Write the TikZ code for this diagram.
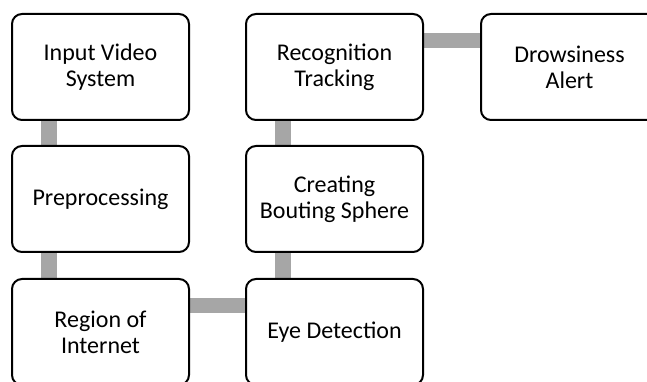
\documentclass[tikz,border=0pt]{standalone}
\usepackage{fontspec}
\setmainfont{Carlito}
\definecolor{linkgray}{RGB}{166,166,166}
\usetikzlibrary{positioning,backgrounds}

\begin{document}
\begin{tikzpicture}[x=1pt, y=1pt,
    stage/.style={draw=black, line width=2pt, fill=white, rounded corners=10pt,
        minimum width=177pt, minimum height=106pt, outer sep=0pt, align=center,
        font=\fontsize{24}{26}\selectfont},
    link/.style={draw=linkgray, line width=15.5pt}]
  \clip (0,0) rectangle (647,382);

  % left column, top to bottom
  \node[stage] (inp) at (100.5,315) {Input Video\\System};
  \node[stage, below=26pt of inp] (pre) {Preprocessing};
  \node[stage, below=27pt of pre] (reg) {Region of\\Internet};
  % middle column, bottom to top
  \node[stage, right=57pt of reg] (eye) {Eye Detection};
  \node[stage, above=27pt of eye] (cre) {Creating\\Bouting Sphere};
  \node[stage, above=26pt of cre] (rec) {Recognition\\Tracking};
  \node[stage, right=58pt of rec] (alt) {Drowsiness\\Alert};

  \begin{pgfonlayer}{background}
    \draw[link] ([xshift=37pt]inp.south west) -- ([xshift=37pt]pre.north west);
    \draw[link] ([xshift=37pt]pre.south west) -- ([xshift=37pt]reg.north west);
    \draw[link] ([yshift=-26.5pt]reg.north east) -- ([yshift=-26.5pt]eye.north west);
    \draw[link] ([xshift=37pt]eye.north west) -- ([xshift=37pt]cre.south west);
    \draw[link] ([xshift=37pt]cre.north west) -- ([xshift=37pt]rec.south west);
    \draw[link] ([yshift=-26.5pt]rec.north east) -- ([yshift=-26.5pt]alt.north west);
  \end{pgfonlayer}
\end{tikzpicture}
\end{document}
